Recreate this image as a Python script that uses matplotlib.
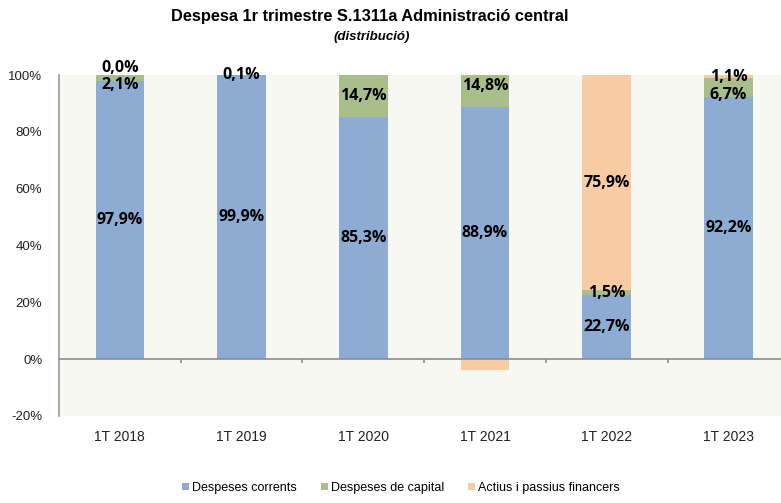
import matplotlib
matplotlib.use("Agg")
import matplotlib.pyplot as plt
import numpy as np

categories = ["1T 2018", "1T 2019", "1T 2020", "1T 2021", "1T 2022", "1T 2023"]
corrents = [97.9, 99.9, 85.3, 88.9, 22.7, 92.2]
capital = [2.1, 0.1, 14.7, 14.8, 1.5, 6.7]
financers = [0.0, None, 0.0, -3.7, 75.9, 1.1]
show_fin_label = [True, False, False, False, True, True]
show_cap_label = [True, True, True, True, True, True]
series_names = ["Despeses corrents", "Despeses de capital", "Actius i passius financers"]
yticks = [-20, 0, 20, 40, 60, 80, 100]

c_blue = "#8DABD3"
c_green = "#A8BE8B"
c_orange = "#F9CBA4"
bg = "#F8F8F3"

plt.rcParams['font.family'] = ['Liberation Sans', 'DejaVu Sans']

W, H = 781, 503
fig = plt.figure(figsize=(W / 100, H / 100), dpi=100)
ax = fig.add_axes([59 / W, (H - 416) / H, 1 - 59 / W, (416 - 75) / H])
ax.set_facecolor(bg)

x = np.arange(len(categories))
bw = 0.40
fin = np.array([0 if v is None else v for v in financers], dtype=float)
cur = np.array(corrents)
cap = np.array(capital)

ax.bar(x, cur, bw, color=c_blue, label=series_names[0], zorder=2)
ax.bar(x, cap, bw, bottom=cur, color=c_green, label=series_names[1], zorder=2)
fin_bottom = np.where(fin >= 0, cur + cap, 0)
ax.bar(x, fin, bw, bottom=fin_bottom, color=c_orange, label=series_names[2], zorder=2)

def fmt(v):
    return f"{v:.1f}".replace(".", ",") + "%"

lab_kw = dict(ha="center", fontsize=11.5, fontweight="bold",
              family=["Open Sans", "DejaVu Sans"], color="black", zorder=5)
for i in range(len(categories)):
    ax.text(x[i], cur[i] / 2, fmt(cur[i]), va="center", **lab_kw)
    cap_y = cur[i] + cap[i] / 2
    crowded = False
    if show_fin_label[i] and financers[i] is not None:
        fy = fin_bottom[i] + fin[i] / 2
        crowded = abs(fy - cap_y) < 6
    if show_cap_label[i]:
        if crowded:
            ax.text(x[i], cap_y + 0.3, fmt(cap[i]), va="top", **lab_kw)
        else:
            ax.text(x[i], cap_y, fmt(cap[i]), va="center", **lab_kw)
    if show_fin_label[i] and financers[i] is not None:
        if crowded:
            ax.text(x[i], cap_y + 0.8, fmt(fin[i]), va="bottom", **lab_kw)
        else:
            ax.text(x[i], fy, fmt(fin[i]), va="center", **lab_kw)

ax.set_xlim(-0.5, (781 - 119.7) / 121.76)
ax.set_ylim(-20, 100)
ax.set_yticks(yticks)
ax.set_yticklabels([f"{t}%" for t in yticks], fontsize=9.5, color="#222222")
ax.tick_params(axis="y", length=0, pad=12)

ax.set_xticks(x)
ax.set_xticklabels(categories, fontsize=10, color="#222222")
ax.tick_params(axis="x", length=0, pad=10)

for s in ["top", "right", "bottom"]:
    ax.spines[s].set_visible(False)
ax.spines["left"].set_color("#9A9A9A")
ax.spines["left"].set_linewidth(1.2)

ax.axhline(0, color="#8C8C8C", lw=1.2, zorder=3)
bounds = np.arange(len(categories)) + 0.5
ax.vlines(bounds[:-1], -1.4, 0, color="#8C8C8C", lw=1.2, zorder=3)

fig.text(370 / W, 1 - 17 / H, "Despesa 1r trimestre S.1311a Administració central",
         ha="center", va="center", fontsize=11.8, fontweight="bold")
fig.text(372 / W, 1 - 37 / H, "(distribució)", ha="center", va="center",
         fontsize=9.5, fontweight="bold", style="italic")

leg = fig.legend(loc="center", bbox_to_anchor=(401 / W, 1 - 488 / H), ncol=3,
                 frameon=False, fontsize=9, handlelength=0.55, handleheight=0.55,
                 handletextpad=0.25, columnspacing=1.9)

fig.savefig("out.png", dpi=100, facecolor="white")
